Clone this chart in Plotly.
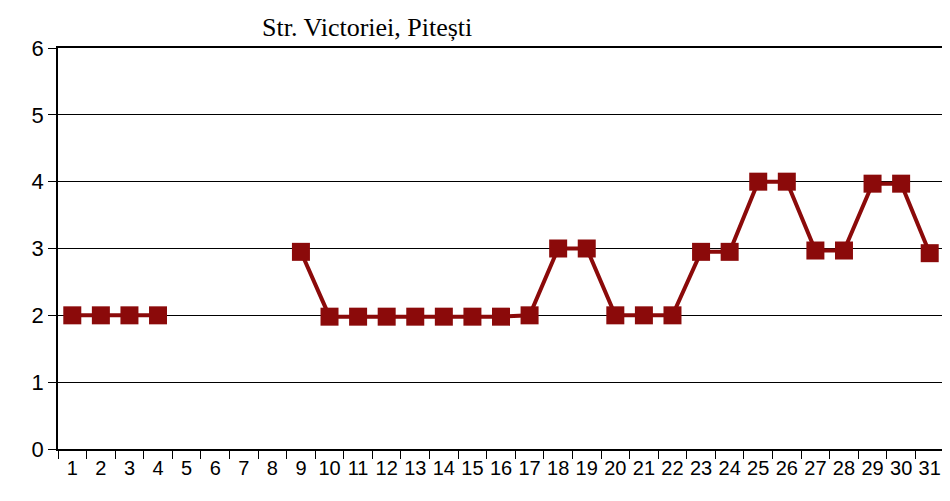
import plotly.graph_objects as go

days = [str(d) for d in range(1, 32)]
values = [2.0, 2.0, 2.0, 2.0, None, None, None, None,
          2.95, 1.98, 1.98, 1.98, 1.98, 1.98, 1.98, 1.98, 2.0,
          3.0, 3.0, 2.0, 2.0, 2.0, 2.95, 2.95, 4.0, 4.0,
          2.97, 2.97, 3.97, 3.97, 2.93]
y_ticks = [0, 1, 2, 3, 4, 5, 6]
title_text = "Str. Victoriei, Pitești"

fig = go.Figure()
fig.add_trace(go.Scatter(
    x=days, y=values, mode="lines+markers",
    line=dict(color="#8B0A0A", width=4),
    marker=dict(symbol="square", size=18, color="#8B0A0A"),
    connectgaps=False, showlegend=False, cliponaxis=False,
))

fig.update_layout(
    width=950, height=501,
    margin=dict(l=50, r=14, t=40, b=60),
    paper_bgcolor="white", plot_bgcolor="white",
    font=dict(family="Liberation Sans, Arial", color="black"),
    xaxis=dict(
        type="category", tickson="boundaries", ticks="outside", ticklen=8,
        tickcolor="black", showgrid=False, showline=True, linecolor="black",
        linewidth=2, mirror=True, tickfont=dict(size=20), tickangle=0,
        range=[-0.5, 30.5],
    ),
    yaxis=dict(
        range=[0, 6], tickvals=y_ticks, ticks="outside", ticklen=8,
        tickcolor="black", showgrid=True, gridcolor="black", gridwidth=1,
        showline=True, linecolor="black", linewidth=1.5, mirror=True,
        tickfont=dict(size=22), zeroline=False,
    ),
    annotations=[dict(
        text=title_text, xref="paper", yref="paper", x=0.47, y=1.0,
        xanchor="right", yanchor="bottom", yshift=4, showarrow=False,
        font=dict(family="Liberation Serif, Times New Roman", size=26),
    )],
)

fig.write_html("out.html")
